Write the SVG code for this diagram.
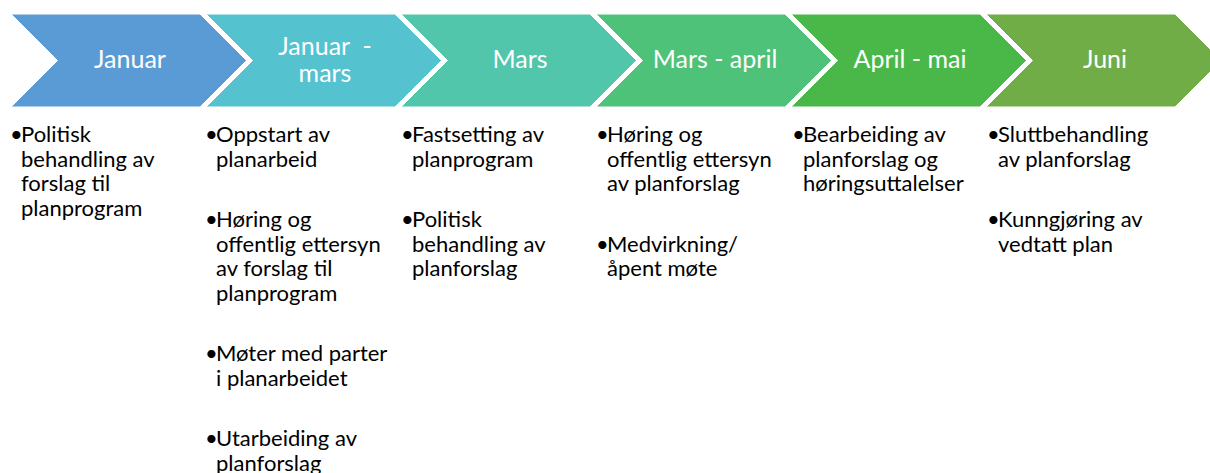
<svg xmlns="http://www.w3.org/2000/svg" width="1210" height="473" viewBox="0 0 1210 473">
<style>
.chev{stroke:#fff;stroke-width:1}
.h{font-family:Lato,"Carlito","Liberation Sans",sans-serif;font-size:25px;fill:#fff;text-anchor:middle}
.b{font-family:Lato,"Carlito","Liberation Sans",sans-serif;font-size:22px;fill:#000}
</style>
<defs>
<polygon id="shape" points="11,14 200,14 246.5,60.5 200,107 11,107 57.5,60.5"/>
</defs>
<rect width="1210" height="473" fill="#fff"/>
<g id="n1">
<use href="#shape" class="chev" fill="#5B9BD5"/>
<text class="h" x="130" y="68">Januar</text>
<text class="b" x="10" y="142">•</text>
<text class="b" x="21" y="142">Politisk</text>
<text class="b" x="21" y="166.5">behandling av</text>
<text class="b" x="21" y="191">forslag til</text>
<text class="b" x="21" y="215.5">planprogram</text>
</g>
<g id="n2" transform="translate(195,0)">
<use href="#shape" class="chev" fill="#55C2CF"/>
<text class="h" xml:space="preserve"><tspan x="130" y="55">Januar  -</tspan><tspan x="130" y="82">mars</tspan></text>
<text class="b" x="10" y="142">•</text>
<text class="b" x="21" y="142">Oppstart av</text>
<text class="b" x="21" y="166.5">planarbeid</text>
<text class="b" x="10" y="227">•</text>
<text class="b" x="21" y="227">Høring og</text>
<text class="b" x="21" y="251.5">offentlig ettersyn</text>
<text class="b" x="21" y="276">av forslag til</text>
<text class="b" x="21" y="300.5">planprogram</text>
<text class="b" x="10" y="361">•</text>
<text class="b" x="21" y="361">Møter med parter</text>
<text class="b" x="21" y="385.5">i planarbeidet</text>
<text class="b" x="10" y="446">•</text>
<text class="b" x="21" y="446">Utarbeiding av</text>
<text class="b" x="21" y="470.5">planforslag</text>
</g>
<g id="n3" transform="translate(390,0)">
<use href="#shape" class="chev" fill="#51C6AB"/>
<text class="h" x="130" y="68">Mars</text>
<text class="b" x="11" y="142">•</text>
<text class="b" x="22" y="142">Fastsetting av</text>
<text class="b" x="22" y="166.5">planprogram</text>
<text class="b" x="11" y="227">•</text>
<text class="b" x="22" y="227">Politisk</text>
<text class="b" x="22" y="251.5">behandling av</text>
<text class="b" x="22" y="276">planforslag</text>
</g>
<g id="n4" transform="translate(585,0)">
<use href="#shape" class="chev" fill="#4DC278"/>
<text class="h" x="130" y="68">Mars - april</text>
<text class="b" x="11" y="142">•</text>
<text class="b" x="22" y="142">Høring og</text>
<text class="b" x="22" y="166.5">offentlig ettersyn</text>
<text class="b" x="22" y="191">av planforslag</text>
<text class="b" x="11" y="251.5">•</text>
<text class="b" x="22" y="251.5">Medvirkning/</text>
<text class="b" x="22" y="276">åpent møte</text>
</g>
<g id="n5" transform="translate(780,0)">
<use href="#shape" class="chev" fill="#4AB848"/>
<text class="h" x="130" y="68">April - mai</text>
<text class="b" x="12" y="142">•</text>
<text class="b" x="23" y="142">Bearbeiding av</text>
<text class="b" x="23" y="166.5">planforslag og</text>
<text class="b" x="23" y="191">høringsuttalelser</text>
</g>
<g id="n6" transform="translate(975,0)">
<use href="#shape" class="chev" fill="#70AD47"/>
<text class="h" x="130" y="68">Juni</text>
<text class="b" x="12" y="142">•</text>
<text class="b" x="23" y="142">Sluttbehandling</text>
<text class="b" x="23" y="166.5">av planforslag</text>
<text class="b" x="12" y="227">•</text>
<text class="b" x="23" y="227">Kunngjøring av</text>
<text class="b" x="23" y="251.5">vedtatt plan</text>
</g>
</svg>
